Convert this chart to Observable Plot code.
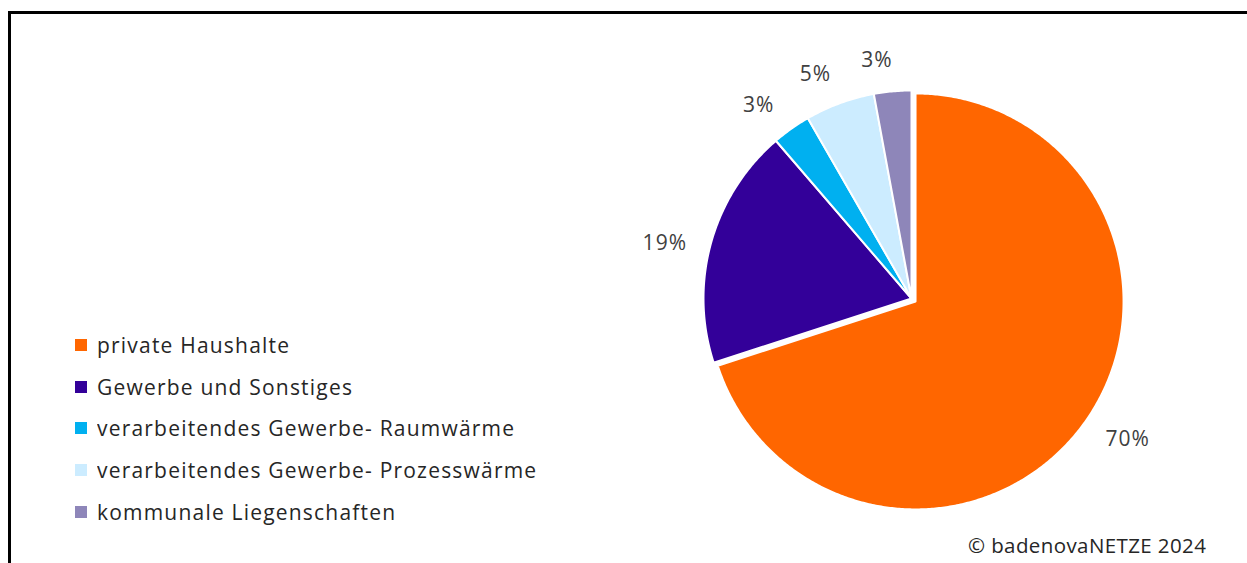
<!DOCTYPE html>
<html>
<head>
<meta charset="utf-8">
<script src="https://cdn.jsdelivr.net/npm/d3@7"></script>
<script src="https://cdn.jsdelivr.net/npm/@observablehq/plot@0.6"></script>
<style>
  html, body { margin: 0; padding: 0; background: #fff; overflow: hidden; }
  #wrap { position: relative; width: 1247px; height: 563px; overflow: hidden; font-family: "Open Sans", sans-serif; }
  #frame { position: absolute; left: 8px; top: 11px; width: 1400px; height: 700px;
           border-left: 3px solid #000; border-top: 3px solid #000; }
  #chart { position: absolute; left: 0; top: 0; }
  #legend { position: absolute; left: 75px; top: 324px; }
  #legend .lg-swatch { height: 41.75px; padding-bottom: 0; margin: 0; display: flex; align-items: center; }
  #legend .lg-swatch svg { margin-right: 10px; }
  #caption { position: absolute; left: 968px; top: 531px; font-size: 20.5px; letter-spacing: 0.4px; color: #262626; white-space: nowrap; }
</style>
</head>
<body>
<div id="wrap">
  <div id="frame"></div>
  <div id="chart"></div>
  <div id="legend"></div>
  <div id="caption"></div>
</div>
<script>
const categories = [
  "private Haushalte",
  "Gewerbe und Sonstiges",
  "verarbeitendes Gewerbe- Raumwärme",
  "verarbeitendes Gewerbe- Prozesswärme",
  "kommunale Liegenschaften"
];
const shares = [70.0, 18.7, 3.0, 5.4, 2.9];
const colors = ["#FF6600", "#330099", "#00B0F0", "#CCECFF", "#8E86B9"];
const exploded = [true, false, false, false, false];
const captionText = "© badenovaNETZE 2024";

// geometry (pixel layout of the pie)
const cx = 911, cy = 298, R = 208;
const explodeOffset = 5 / R;
const labelGap = 21;          // px between pie edge and label box
const labelFontSize = 21;
const labelBoxHeight = 20;
const labelAngleShift = -3 * Math.PI / 180;

const ctx = document.createElement("canvas").getContext("2d");
ctx.font = `${labelFontSize}px 'Open Sans'`;
const textWidth = s => ctx.measureText(s).width + s.length * 1;

const total = d3.sum(shares);
const pie = d3.pie().sort(null).value(d => d.value).startAngle(0).endAngle(2 * Math.PI);
const arcs = pie(categories.map((name, i) => ({name, value: shares[i], exploded: exploded[i]})));

const polyPoints = [];
const labels = [];
arcs.forEach(a => {
  const mid = (a.startAngle + a.endAngle) / 2;
  const off = a.data.exploded ? explodeOffset : 0;
  const ox = off * Math.sin(mid), oy = off * Math.cos(mid);
  polyPoints.push({name: a.data.name, x: ox, y: oy});
  const steps = Math.max(2, Math.ceil((a.endAngle - a.startAngle) / (Math.PI / 360)));
  for (let k = 0; k <= steps; k++) {
    const t = a.startAngle + (a.endAngle - a.startAngle) * k / steps;
    polyPoints.push({name: a.data.name, x: ox + Math.sin(t), y: oy + Math.cos(t)});
  }
  const text = d3.format(".0%")(a.data.value / total);
  const la = mid + labelAngleShift;
  const sx = Math.sin(la), cy_ = Math.cos(la);
  const extent = Math.abs(sx) * textWidth(text) / 2 + Math.abs(cy_) * labelBoxHeight / 2;
  const dist = 1 + (labelGap + extent) / R;
  labels.push({
    name: a.data.name,
    text,
    x: ox + dist * sx,
    y: oy + dist * cy_
  });
});

const colorScale = {type: "ordinal", domain: categories, range: colors};

const chart = Plot.plot({
  width: 1247,
  height: 563,
  margin: 0,
  x: {domain: [-1, 1], range: [cx - R, cx + R], axis: null},
  y: {domain: [-1, 1], range: [cy + R, cy - R], axis: null},
  color: colorScale,
  style: {background: "transparent", fontFamily: "'Open Sans', sans-serif", letterSpacing: "1px"},
  marks: [
    Plot.line(polyPoints, {x: "x", y: "y", z: "name", fill: "name", stroke: "white", strokeWidth: 2, curve: "linear-closed"}),
    Plot.text(labels, {x: "x", y: "y", text: "text", fontSize: labelFontSize, fill: "#404040"})
  ]
});
document.getElementById("chart").appendChild(chart);

const legend = Plot.legend({
  color: colorScale,
  legend: "swatches",
  columns: 1,
  swatchSize: 12,
  className: "lg",
  style: {fontSize: "21px", letterSpacing: "1.2px", fontFamily: "'Open Sans', sans-serif", color: "#262626", margin: 0}
});
document.getElementById("legend").appendChild(legend);
document.getElementById("caption").textContent = captionText;
</script>
</body>
</html>
